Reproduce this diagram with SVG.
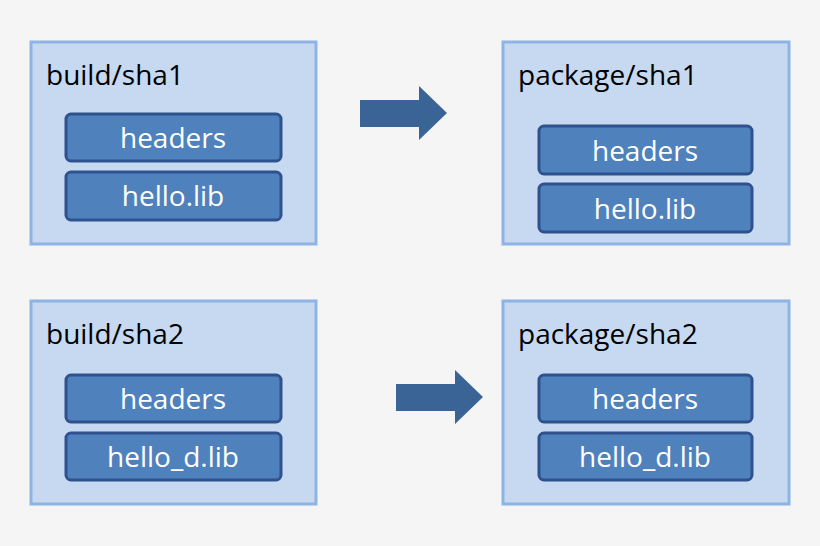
<svg xmlns="http://www.w3.org/2000/svg" width="820" height="546" viewBox="0 0 820 546">
<style>
.o{fill:#c6d9f1;stroke:#8eb4e3;stroke-width:3}
.i{fill:#4f81bd;stroke:#2f528f;stroke-width:3}
.t{font-family:"Open Sans","Liberation Sans",sans-serif;font-size:28px;fill:#000}
.w{font-family:"Open Sans","Liberation Sans",sans-serif;font-size:28px;fill:#fff;text-anchor:middle}
.a{fill:#3a6496}
</style>
<rect width="820" height="546" fill="#f5f5f5"/>
<g id="build1"><rect class="o" x="31" y="42" width="285" height="202"/><text class="t" x="46" y="85">build/sha1</text>
<rect class="i" x="66" y="114" width="215" height="47" rx="5"/><text class="w" x="173" y="148">headers</text>
<rect class="i" x="66" y="172" width="215" height="48" rx="5"/><text class="w" x="173" y="206">hello.lib</text></g>
<g id="pkg1"><rect class="o" x="503" y="42" width="286" height="202"/><text class="t" x="518" y="85">package/sha1</text>
<rect class="i" x="539" y="126" width="213" height="48" rx="5"/><text class="w" x="645" y="161">headers</text>
<rect class="i" x="539" y="184" width="213" height="48" rx="5"/><text class="w" x="645" y="219">hello.lib</text></g>
<g id="build2"><rect class="o" x="31" y="301" width="285" height="203"/><text class="t" x="46" y="344">build/sha2</text>
<rect class="i" x="66" y="375" width="215" height="47" rx="5"/><text class="w" x="173" y="409">headers</text>
<rect class="i" x="66" y="433" width="215" height="47" rx="5"/><text class="w" x="173" y="467">hello_d.lib</text></g>
<g id="pkg2"><rect class="o" x="503" y="301" width="286" height="203"/><text class="t" x="518" y="344">package/sha2</text>
<rect class="i" x="539" y="375" width="213" height="47" rx="5"/><text class="w" x="645" y="409">headers</text>
<rect class="i" x="539" y="433" width="213" height="47" rx="5"/><text class="w" x="645" y="467">hello_d.lib</text></g>
<g id="connectors">
<polygon class="a" points="360,100 419,100 419,86 447,113 419,140 419,127 360,127"/>
<polygon class="a" points="396,384 455,384 455,370 483,397 455,424 455,411 396,411"/>
</g>
</svg>
